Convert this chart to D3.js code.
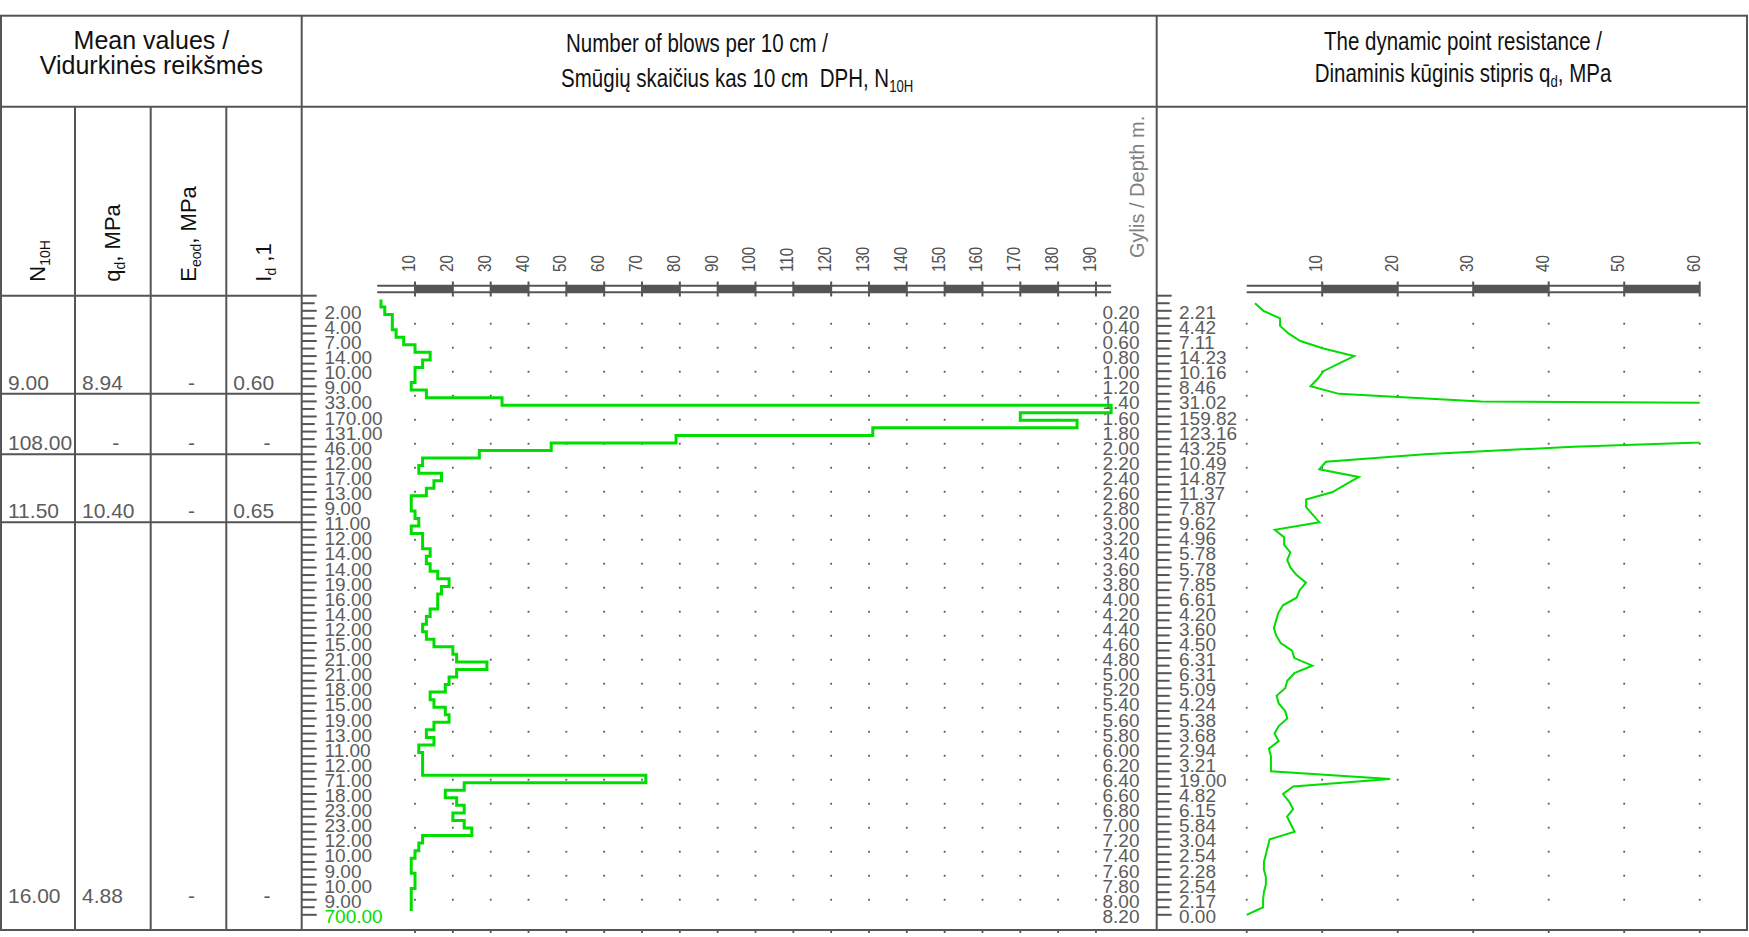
<!DOCTYPE html>
<html>
<head>
<meta charset="utf-8">
<script src="https://cdn.jsdelivr.net/npm/d3@7"></script>
<style>
  html, body { margin: 0; padding: 0; background: #fff; }
  svg { display: block; }
  .reg { font-family: "Liberation Sans", Arial, sans-serif; }
</style>
</head>
<body>
<svg id="chart" width="1749" height="937"></svg>
<script>
// Blows per 10 cm, one value per interval (0.0-0.1 ... 8.0-8.1 m)
const n10 = [1, 2, 4, 4, 5, 7, 10, 14, 12, 10,
             10, 9, 13, 33, 194, 170, 185, 131, 79, 46,
             27, 12, 11, 17, 15, 13, 9, 9, 10, 11,
             9, 12, 12, 14, 13, 14, 16, 19, 17, 16,
             16, 14, 13, 12, 13, 15, 20, 21, 29, 21,
             19, 18, 14, 15, 18, 19, 15, 13, 15, 11,
             12, 12, 12, 71, 23, 18, 21, 23, 20, 23,
             25, 12, 11, 10, 9, 9, 10, 10, 9, 9,
             9];

// Dynamic point resistance qd (MPa), one value per 0.1 m, last one at 8.2 m
const qd = [1.10, 2.21, 4.42, 4.42, 5.53, 7.11, 10.16, 14.23, 12.19, 10.16,
            9.40, 8.46, 12.22, 31.02, 182.36, 159.82, 173.90, 123.16, 74.26, 43.25,
            23.60, 10.49, 9.62, 14.87, 13.12, 11.37, 7.87, 7.87, 8.74, 9.62,
            3.72, 4.96, 4.96, 5.78, 5.37, 5.78, 6.61, 7.85, 7.02, 6.61,
            4.80, 4.20, 3.90, 3.60, 3.90, 4.50, 6.00, 6.31, 8.70, 6.31,
            5.38, 5.09, 3.96, 4.24, 5.09, 5.38, 4.24, 3.68, 4.24, 2.94,
            3.21, 3.21, 3.21, 19.00, 6.15, 4.82, 5.61, 6.15, 5.35, 5.84,
            6.35, 3.04, 2.79, 2.54, 2.28, 2.28, 2.54, 2.54, 2.28, 2.17,
            2.17, 0.00];

// labels written every 0.2 m
const depthLabels = ['0.20','0.40','0.60','0.80','1.00','1.20','1.40','1.60','1.80','2.00',
                     '2.20','2.40','2.60','2.80','3.00','3.20','3.40','3.60','3.80','4.00',
                     '4.20','4.40','4.60','4.80','5.00','5.20','5.40','5.60','5.80','6.00',
                     '6.20','6.40','6.60','6.80','7.00','7.20','7.40','7.60','7.80','8.00','8.20'];
const nLabels = ['2.00','4.00','7.00','14.00','10.00','9.00','33.00','170.00','131.00','46.00',
                 '12.00','17.00','13.00','9.00','11.00','12.00','14.00','14.00','19.00','16.00',
                 '14.00','12.00','15.00','21.00','21.00','18.00','15.00','19.00','13.00','11.00',
                 '12.00','71.00','18.00','23.00','23.00','12.00','10.00','9.00','10.00','9.00','700.00'];
const qdLabels = ['2.21','4.42','7.11','14.23','10.16','8.46','31.02','159.82','123.16','43.25',
                  '10.49','14.87','11.37','7.87','9.62','4.96','5.78','5.78','7.85','6.61',
                  '4.20','3.60','4.50','6.31','6.31','5.09','4.24','5.38','3.68','2.94',
                  '3.21','19.00','4.82','6.15','5.84','3.04','2.54','2.28','2.54','2.17','0.00'];

const nTicks = [10, 20, 30, 40, 50, 60, 70, 80, 90, 100, 110, 120, 130, 140, 150, 160, 170, 180, 190];
const qdTicks = [10, 20, 30, 40, 50, 60];

// mean values per layer
const layerTop = [0, 1.3, 2.1, 3.0];
const layerBottom = [1.3, 2.1, 3.0, 8.1];
const meanN = ['9.00', '108.00', '11.50', '16.00'];
const meanQd = ['8.94', '-', '10.40', '4.88'];
const meanEeod = ['-', '-', '-', '-'];
const meanId = ['0.60', '-', '0.65', '-'];

const GREEN = '#00dd00';
const LINE = '#555';
const GREY_TXT = '#5c5c5c';
const NARROW = 0.82;   // no narrow face installed, squeeze the regular one

const svg = d3.select('#chart');

// frame geometry
const fTop = 15.7, headB = 106.7, subB = 295.7, fBottom = 930, fLeft = 1, fRight = 1747;
const cols = [fLeft, 75, 150.7, 226.3, 301.7];
const midR = 1156.7;

const y = d3.scaleLinear().domain([0, 8.2]).range([subB, subB + 75.5 * 8.2]);
const xN = d3.scaleLinear().domain([0, 194]).range([377.2, 1111.1]);
const xQ = d3.scaleLinear().domain([0, 60]).range([1246.7, 1699.7]);

function hline(x1, x2, yy, w) {
    svg.append('line').attr('x1', x1).attr('x2', x2).attr('y1', yy).attr('y2', yy)
        .attr('stroke', LINE).attr('stroke-width', w || 2);
}
function vline(xx, y1, y2, w) {
    svg.append('line').attr('x1', xx).attr('x2', xx).attr('y1', y1).attr('y2', y2)
        .attr('stroke', LINE).attr('stroke-width', w || 2);
}

// ---- frame ----
svg.append('rect').attr('x', fLeft).attr('y', fTop).attr('width', fRight - fLeft).attr('height', fBottom - fTop)
    .attr('fill', 'none').attr('stroke', LINE).attr('stroke-width', 2);
hline(fLeft, fRight, headB);
hline(fLeft, cols[4], subB);
vline(cols[4], fTop, fBottom);
vline(midR, fTop, fBottom);
cols.slice(1, 4).forEach(c => vline(c, headB, fBottom));
layerBottom.slice(0, 3).forEach(d => hline(fLeft, cols[4], y(d)));

// ---- titles ----
const mean = svg.append('text').attr('class', 'reg').attr('text-anchor', 'middle')
    .attr('font-size', 25).attr('fill', '#111');
mean.append('tspan').attr('x', 151.4).attr('y', 49.3).text('Mean values /');
mean.append('tspan').attr('x', 151.4).attr('y', 74).text('Vidurkinės reikšmės');

const t1 = svg.append('g').attr('transform', `translate(566,0) scale(${NARROW},1)`)
    .append('text').attr('class', 'reg').attr('font-size', 25).attr('fill', '#111')
    .attr('xml:space', 'preserve');
t1.append('tspan').attr('x', 0).attr('y', 52).text('Number of blows per 10 cm /');
t1.append('tspan').attr('x', -6).attr('y', 86.7).text('Smūgių skaičius kas 10 cm  DPH, N');
t1.append('tspan').attr('font-size', 16).attr('dy', 5).text('10H');

const t2 = svg.append('g').attr('transform', `translate(1463,0) scale(${NARROW},1)`)
    .append('text').attr('class', 'reg').attr('font-size', 25).attr('fill', '#111')
    .attr('text-anchor', 'middle');
t2.append('tspan').attr('x', 0).attr('y', 50).text('The dynamic point resistance /');
const t2b = t2.append('tspan').attr('x', 0).attr('y', 82);
t2b.append('tspan').text('Dinaminis kūginis stipris q');
t2b.append('tspan').attr('font-size', 16).attr('dy', 5).text('d');
t2b.append('tspan').attr('dy', -5).text(', MPa');

// rotated column headers in the mean table
const colHeads = [
    [['N', 0], ['10H', 1]],
    [['q', 0], ['d', 1], [', MPa', 0]],
    [['E', 0], ['eod', 1], [', MPa', 0]],
    [['I', 0], ['d', 1], [' ,1', 0]]
];
colHeads.forEach((parts, i) => {
    const cx = (cols[i] + cols[i + 1]) / 2;
    const t = svg.append('text').attr('class', 'reg').attr('font-size', 22).attr('fill', '#111')
        .attr('xml:space', 'preserve')
        .attr('transform', `translate(${cx + 7},${281.7}) rotate(-90)`);
    let shifted = false;
    parts.forEach(([s, sub]) => {
        const sp = t.append('tspan').text(s);
        if (sub) { sp.attr('font-size', 14).attr('dy', 5); shifted = true; }
        else if (shifted) { sp.attr('dy', -5); shifted = false; }
    });
});

// mean values rows
const meanCols = [meanN, meanQd, meanEeod, meanId];
meanCols.forEach((vals, c) => {
    vals.forEach((v, r) => {
        const isDash = v === '-';
        svg.append('text').attr('class', 'reg').attr('font-size', 21).attr('fill', GREY_TXT)
            .attr('x', isDash ? (cols[c] + cols[c + 1]) / 2 + 3 : cols[c] + 7)
            .attr('text-anchor', isDash ? 'middle' : 'start')
            .attr('y', y(layerBottom[r]) - 4)
            .text(v);
    });
});

// ---- depth tick marks ----
const depthSteps = d3.range(0, 83).map(i => i / 10);
[cols[4], midR].forEach(x0 => {
    svg.append('g').selectAll('line').data(depthSteps).join('line')
        .attr('x1', x0).attr('x2', (d, i) => x0 + (i % 2 === 0 ? 15 : 13))
        .attr('y1', d => y(d)).attr('y2', d => y(d))
        .attr('stroke', LINE).attr('stroke-width', 2);
});

// labels along depth
const labDepths = depthLabels.map(s => +s);
svg.append('g').selectAll('text').data(nLabels).join('text')
    .attr('class', 'reg').attr('font-size', 19)
    .attr('fill', (d, i) => i === nLabels.length - 1 ? GREEN : GREY_TXT)
    .attr('x', 324.5).attr('y', (d, i) => y(labDepths[i]) + 1.5)
    .attr('dominant-baseline', 'central').text(d => d);
svg.append('g').selectAll('text').data(depthLabels).join('text')
    .attr('class', 'reg').attr('font-size', 19).attr('fill', GREY_TXT)
    .attr('x', 1139.5).attr('text-anchor', 'end')
    .attr('y', d => y(+d) + 1.5).attr('dominant-baseline', 'central').text(d => d);
svg.append('g').selectAll('text').data(qdLabels).join('text')
    .attr('class', 'reg').attr('font-size', 19).attr('fill', GREY_TXT)
    .attr('x', 1179).attr('y', (d, i) => y(labDepths[i]) + 1.5)
    .attr('dominant-baseline', 'central').text(d => d);

svg.append('text').attr('class', 'reg').attr('font-size', 20).attr('fill', '#808080')
    .attr('transform', 'translate(1137,258) rotate(-90)').attr('dy', '0.35em')
    .text('Gylis / Depth m.');

// ---- dotted grid ----
const rowY = d3.range(0, 25).map(k => 323.7 + 24 * k);
function dots(xs, scale) {
    const g = svg.append('g').attr('fill', '#555');
    xs.forEach(v => {
        rowY.forEach(yy => g.append('rect').attr('x', scale(v) - 0.9).attr('y', yy - 0.9)
            .attr('width', 1.8).attr('height', 1.8));
        g.append('rect').attr('x', scale(v) - 0.9).attr('y', fBottom).attr('width', 1.8).attr('height', 3);
    });
}
dots(nTicks, xN);
dots([0].concat(qdTicks), xQ);

// ---- top axes (double line with alternate filled blocks) ----
function topAxis(scale, ticks) {
    const [d0, d1] = scale.domain();
    const g = svg.append('g');
    const yA = 285.7, yB = 292.3;
    ticks.forEach((t, i) => {
        if (i % 2 === 0 && ticks[i + 1] !== undefined) {
            g.append('rect').attr('x', scale(t)).attr('y', yA)
                .attr('width', scale(ticks[i + 1]) - scale(t)).attr('height', yB - yA).attr('fill', LINE);
        }
    });
    [yA, yB].forEach(yy => g.append('line').attr('x1', scale(d0)).attr('x2', scale(d1))
        .attr('y1', yy).attr('y2', yy).attr('stroke', LINE).attr('stroke-width', 2));
    g.selectAll('line.tk').data(ticks).join('line').attr('class', 'tk')
        .attr('x1', d => scale(d)).attr('x2', d => scale(d)).attr('y1', 281.5).attr('y2', 296.5)
        .attr('stroke', LINE).attr('stroke-width', 2);
    g.selectAll('text').data(ticks).join('text')
        .attr('class', 'reg').attr('font-size', 18.5).attr('fill', '#505050')
        .attr('transform', d => `translate(${scale(d)},272) rotate(-90) scale(${NARROW},1)`)
        .text(d => d);
}
topAxis(xN, nTicks);
topAxis(xQ, qdTicks);

// ---- N10 step curve ----
const stepPts = [];
n10.forEach((v, i) => {
    stepPts.push([v, (i + 0.5) / 10]);
    stepPts.push([v, (i + 1.5) / 10]);
});
svg.append('path').datum(stepPts)
    .attr('fill', 'none').attr('stroke', GREEN).attr('stroke-width', 3)
    .attr('d', d3.line().x(d => xN(d[0])).y(d => y(d[1])));

// ---- qd line (clipped at 60 MPa) ----
svg.append('clipPath').attr('id', 'qclip').append('rect')
    .attr('x', midR).attr('y', subB).attr('width', xQ(60) - midR).attr('height', fBottom - subB);
svg.append('path').datum(qd)
    .attr('clip-path', 'url(#qclip)')
    .attr('fill', 'none').attr('stroke', GREEN).attr('stroke-width', 2)
    .attr('d', d3.line().x(d => xQ(d)).y((d, i) => y((i + 1) / 10)));
</script>
</body>
</html>
